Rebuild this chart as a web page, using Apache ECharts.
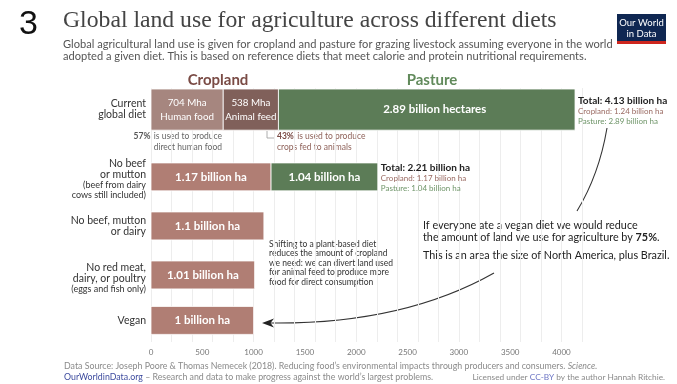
<!DOCTYPE html>
<html>
<head>
<meta charset="utf-8">
<script src="https://cdn.jsdelivr.net/npm/echarts@6/dist/echarts.min.js"></script>
<style>
  html, body { margin: 0; padding: 0; background: #fff; }
  #chart { width: 677px; height: 384px; }
</style>
</head>
<body>
<div id="chart"></div>
<script>
// Diets compared (million hectares of agricultural land)
const diets = [
  'Current global diet',
  'No beef or mutton',
  'No beef, mutton or dairy',
  'No red meat, dairy, or poultry',
  'Vegan'
];
const croplandHumanFood = 704;   // current diet: cropland growing food for people
const croplandAnimalFeed = 538;  // current diet: cropland growing animal feed
const cropland = [1242, 1170, 1100, 1010, 1000];
const pasture  = [2890, 1040, 0, 0, 0];
const xTickLabels = [0, 500, 1000, 1500, 2000, 2500, 3000, 3500, 4000];

// Row label text (rich-text markup, main lines + smaller notes)
const rowLabelText = [
  '{m|Current}\n{m|global diet}',
  '{m|No beef}\n{m|or mutton}\n{s|(beef from dairy}\n{s|cows still included)}',
  '{m|No beef, mutton}\n{m|or dairy}',
  '{m|No red meat,}\n{m|dairy, or poultry}\n{s|(eggs and fish only)}',
  '{m|Vegan}'
];

// Layout of the rows on the hidden vertical value axis
const rowCenter = [0.85, 3.5, 5.43, 7.36, 9.15];
const rowThickness = [1.62, 1.1, 1.1, 1.1, 1.1];

const COLORS = {
  food: '#a6867f',
  feed: '#80605a',
  crop: '#b07e74',
  pasture: '#5c7c57',
  cropText: '#9a6a62',
  pastureText: '#6f9569'
};
const FONT = 'Lato, "Noto Sans", sans-serif';
const TITLE_FONT = '"Liberation Serif", serif';

function fmtBillion(v) {
  return String(parseFloat((v / 1000).toFixed(2)));
}

// Title size chosen so the heading spans the header width
const TITLE = 'Global land use for agriculture across different diets';
function fitFontSize(text, family, targetWidth) {
  const ctx = document.createElement('canvas').getContext('2d');
  ctx.font = '100px ' + family;
  const w = ctx.measureText(text).width;
  return w > 0 ? Math.min(26, 100 * targetWidth / w) : 24;
}
const titleSize = fitFontSize(TITLE, TITLE_FONT, 494);

// Build bar segments from the arrays above
const segments = [];
diets.forEach((d, i) => {
  if (i === 0) {
    segments.push({ row: i, start: 0, end: croplandHumanFood, kind: 'food',
      text: '{a|' + croplandHumanFood + ' Mha}\n{a|Human food}' });
    segments.push({ row: i, start: croplandHumanFood, end: croplandHumanFood + croplandAnimalFeed, kind: 'feed',
      text: '{a|' + croplandAnimalFeed + ' Mha}\n{a|Animal feed}' });
    segments.push({ row: i, start: cropland[i], end: cropland[i] + pasture[i], kind: 'pasture',
      text: '{b|' + fmtBillion(pasture[i]) + ' billion hectares}', total: true, shift: 8 });
  } else {
    segments.push({ row: i, start: 0, end: cropland[i], kind: 'crop',
      text: '{b|' + fmtBillion(cropland[i]) + ' billion ha}' });
    if (pasture[i] > 0) {
      segments.push({ row: i, start: cropland[i], end: cropland[i] + pasture[i], kind: 'pasture',
        text: '{b|' + fmtBillion(pasture[i]) + ' billion ha}', total: true });
    }
  }
});

const barRich = {
  a: { fontFamily: FONT, fontSize: 9.8, lineHeight: 13.5, fill: '#fff' },
  b: { fontFamily: FONT, fontSize: 11.5, fontWeight: 'bold', fill: '#fff' }
};
const totalRich = {
  t: { fontFamily: FONT, fontSize: 10, fontWeight: 'bold', fill: '#222', lineHeight: 11 },
  c: { fontFamily: FONT, fontSize: 8, fill: COLORS.cropText, lineHeight: 10 },
  p: { fontFamily: FONT, fontSize: 8, fill: COLORS.pastureText, lineHeight: 10 }
};
const rowRich = {
  m: { fontFamily: FONT, fontSize: 10.5, fill: '#333', lineHeight: 11, align: 'right' },
  s: { fontFamily: FONT, fontSize: 9, fill: '#333', lineHeight: 9.5, align: 'right' }
};

function renderBar(params, api) {
  const seg = segments[params.dataIndex];
  const c = rowCenter[seg.row];
  const p0 = api.coord([api.value(0), c]);
  const p1 = api.coord([api.value(1), c]);
  const h = api.size([0, rowThickness[seg.row]])[1];
  const children = [{
    type: 'rect',
    shape: { x: p0[0], y: p0[1] - h / 2, width: p1[0] - p0[0], height: h },
    style: { fill: COLORS[seg.kind], stroke: '#fff', lineWidth: 0.8 }
  }, {
    type: 'text',
    style: {
      text: seg.text, rich: barRich,
      x: (p0[0] + p1[0]) / 2 + (seg.shift || 0), y: p0[1],
      align: 'center', verticalAlign: 'middle', fill: '#fff'
    }
  }];
  if (seg.total) {
    const crop = cropland[seg.row], past = pasture[seg.row];
    children.push({
      type: 'text',
      style: {
        text: '{t|Total: ' + fmtBillion(crop + past) + ' billion ha}\n' +
              '{c|Cropland: ' + fmtBillion(crop) + ' billion ha}\n' +
              '{p|Pasture: ' + fmtBillion(past) + ' billion ha}',
        rich: totalRich,
        x: p1[0] + 3, y: p1[1] + 1,
        align: 'left', verticalAlign: 'middle'
      }
    });
  }
  return { type: 'group', children };
}

function renderRowLabel(params, api) {
  const i = params.dataIndex;
  const p = api.coord([0, rowCenter[i]]);
  return {
    type: 'text',
    style: {
      text: rowLabelText[i], rich: rowRich,
      x: p[0] - 5, y: p[1] + (i === 1 ? 2 : 0) + (i === 3 ? 3 : 0),
      align: 'right', verticalAlign: 'middle'
    }
  };
}

const chart = echarts.init(document.getElementById('chart'), null, { renderer: 'canvas' });

const gray = '#8a8a8a';

chart.setOption({
  animation: false,
  backgroundColor: '#fff',
  grid: { left: 151, right: 95, top: 88, bottom: 42 },
  xAxis: [{
    type: 'value', min: 0, max: 4200, interval: 500,
    axisLine: { show: false }, axisTick: { show: false }, splitLine: { show: false },
    axisLabel: {
      color: '#777', fontFamily: FONT, fontSize: 8, margin: 6,
      formatter: v => (xTickLabels.indexOf(v) >= 0 ? String(v) : '')
    }
  }, {
    type: 'value', min: 0, max: 4200, interval: 200, position: 'top',
    axisLine: { show: false }, axisTick: { show: false }, axisLabel: { show: false },
    splitLine: { show: true, lineStyle: { color: '#ededed', width: 1 } }
  }],
  yAxis: { type: 'value', min: 0, max: 10, inverse: true, show: false },
  series: [{
    type: 'custom',
    renderItem: renderBar,
    encode: { x: [0, 1], y: 2 },
    data: segments.map(s => [s.start, s.end, rowCenter[s.row]]),
    clip: false
  }, {
    type: 'custom',
    renderItem: renderRowLabel,
    encode: { x: 0, y: 1 },
    data: diets.map((d, i) => [0, rowCenter[i]]),
    clip: false
  }],
  graphic: [
    // chart number
    { type: 'text', left: 19, top: 8, style: { text: '3', fontFamily: 'Liberation Sans, Arial, sans-serif', fontSize: 34, fill: '#111' } },
    // title and subtitle
    { type: 'text', x: 63, y: 33, style: { text: TITLE, fontFamily: TITLE_FONT, fontSize: titleSize, fill: '#444', verticalAlign: 'bottom' } },
    { type: 'text', left: 63, top: 38, style: { text: 'Global agricultural land use is given for cropland and pasture for grazing livestock assuming everyone in the world\nadopted a given diet. This is based on reference diets that meet calorie and protein nutritional requirements.', fontFamily: FONT, fontSize: 11.1, lineHeight: 12, fill: '#555' } },
    // logo
    { type: 'rect', shape: { x: 617, y: 14, width: 49, height: 30 }, style: { fill: '#0f2752' } },
    { type: 'rect', shape: { x: 617, y: 41, width: 49, height: 3 }, style: { fill: '#ce261e' } },
    { type: 'text', x: 641.5, y: 28, style: { text: 'Our World\nin Data', align: 'center', verticalAlign: 'middle', fontFamily: FONT, fontSize: 9.5, lineHeight: 11, fill: '#fff' } },
    // group headers
    { type: 'text', x: 218, y: 80, style: { text: 'Cropland', align: 'center', verticalAlign: 'middle', fontFamily: FONT, fontWeight: 'bold', fontSize: 15, fill: '#7a4b45' } },
    { type: 'text', x: 432, y: 80, style: { text: 'Pasture', align: 'center', verticalAlign: 'middle', fontFamily: FONT, fontWeight: 'bold', fontSize: 15, fill: '#618a5b' } },
    // notes under the current-diet bar
    { type: 'text', x: 222, y: 141, style: {
      text: '{b|57%} {r|is used to produce}\n{r|direct human food}', align: 'right', verticalAlign: 'middle',
      rich: { b: { fontFamily: FONT, fontSize: 8.5, fontWeight: 'bold', fill: '#555', lineHeight: 10 }, r: { fontFamily: FONT, fontSize: 8.5, fill: '#666', lineHeight: 10, align: 'right' } } } },
    { type: 'polyline', shape: { points: [[267, 131], [267, 138], [274, 138]] }, style: { stroke: '#999', lineWidth: 0.8, fill: null } },
    { type: 'text', x: 277, y: 141, style: {
      text: '{b|43%} {r|is used to produce}\n{r|crops fed to animals}', align: 'left', verticalAlign: 'middle',
      rich: { b: { fontFamily: FONT, fontSize: 8.5, fontWeight: 'bold', fill: '#7a4b45', lineHeight: 10 }, r: { fontFamily: FONT, fontSize: 8.5, fill: '#8f625a', lineHeight: 10 } } } },
    // plant-based note
    { type: 'text', x: 269, y: 239, style: { text: 'Shifting to a plant-based diet\nreduces the amount of cropland\nwe need: we can divert land used\nfor animal feed to produce more\nfood for direct consumption', fontFamily: FONT, fontSize: 8.5, lineHeight: 9.6, fill: '#333' } },
    // vegan note
    { type: 'text', x: 423, y: 220, style: {
      text: '{r|If everyone ate a vegan diet we would reduce}\n{r|the amount of land we use for agriculture by }{b|75%}{r|.}',
      rich: { r: { fontFamily: FONT, fontSize: 10.8, fill: '#222', lineHeight: 11.5 }, b: { fontFamily: FONT, fontSize: 10.8, fontWeight: 'bold', fill: '#222', lineHeight: 11.5 } } } },
    { type: 'text', x: 423, y: 250.5, style: { text: 'This is an area the size of North America, plus Brazil.', fontFamily: FONT, fontSize: 10.8, fill: '#222' } },
    // connector from current total to the vegan note
    { type: 'bezierCurve', shape: { x1: 607, y1: 128, x2: 577, y2: 211, cpx1: 599, cpy1: 175 }, style: { stroke: '#333', lineWidth: 1.1, fill: null } },
    // arrow from the vegan note to the vegan bar
    { type: 'bezierCurve', shape: { x1: 494, y1: 273, x2: 268, y2: 323, cpx1: 402, cpy1: 325 }, style: { stroke: '#333', lineWidth: 1.1, fill: null } },
    { type: 'polygon', shape: { points: [[262, 323], [274, 318.5], [270.5, 323], [274, 327.5]] }, style: { fill: '#222' } },
    // footer
    { type: 'text', left: 64, top: 362, style: {
      text: '{g|Data Source: Joseph Poore & Thomas Nemecek (2018). Reducing food’s environmental impacts through producers and consumers. }{i|Science.}',
      rich: { g: { fontFamily: FONT, fontSize: 8.8, fill: gray }, i: { fontFamily: FONT, fontSize: 8.8, fill: gray, fontStyle: 'italic' } } } },
    { type: 'text', left: 64, top: 373, style: {
      text: '{l|OurWorldinData.org}{g| – Research and data to make progress against the world’s largest problems.}',
      rich: { l: { fontFamily: FONT, fontSize: 8.8, fill: '#3d4b9e' }, g: { fontFamily: FONT, fontSize: 8.8, fill: gray } } } },
    { type: 'text', right: 12, top: 373, style: {
      text: '{g|Licensed under }{l|CC-BY}{g| by the author Hannah Ritchie.}',
      rich: { l: { fontFamily: FONT, fontSize: 8.3, fill: '#6b74c4' }, g: { fontFamily: FONT, fontSize: 8.3, fill: gray } } } }
  ]
});
</script>
</body>
</html>
